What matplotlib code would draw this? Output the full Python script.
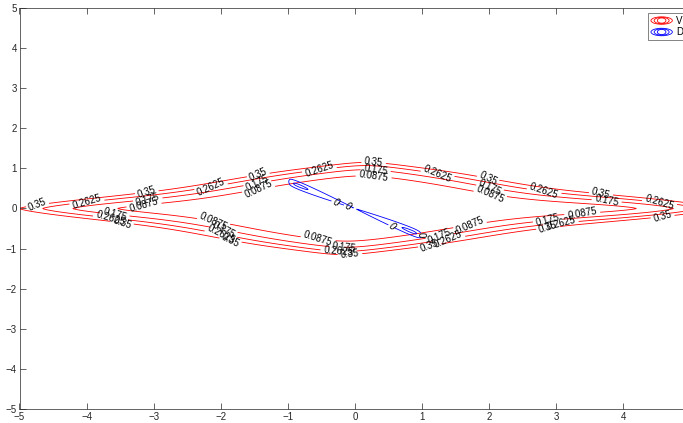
import numpy as np
import matplotlib.pyplot as plt
from matplotlib.legend_handler import HandlerBase
from matplotlib.lines import Line2D
from matplotlib.patches import Ellipse

plt.rcParams['font.family'] = ['Liberation Sans', 'DejaVu Sans']

# contour levels shown in the chart
v_levels = [0.0875, 0.175, 0.2625, 0.35]
d_zero = 0.0

# V surface (tips, heights at x=0)
v_tip_left = 5.0       # 0.35 contour meets y=0 at x=-5
v_tip_right = 5.37     # right tip (outside the visible area)
v_top = 1.15           # 0.35 contour top at x=0
v_shear = 0.15

# D surface: two thin lobes along the line y = -0.68 x
d_end = 0.98
d_slope = -0.68
d_width = 0.16
d_gap = 0.02

# where MATLAB put the labels, per level
v_label_pos = {
    0.35: [(-4.74, 0.1), (-3.1, 0.4), (-3.46, -0.33), (-1.76, -0.67), (-1.43, 0.82),
           (0.28, 1.15), (-0.07, -1.17), (1.9, 0.65), (3.65, 0.33), (4.56, -0.15),
           (1.12, -0.93), (2.86, -0.45)],
    0.2625: [(-4.0, 0.17), (-2.09, 0.47), (-3.65, -0.25), (-1.94, -0.57), (-0.55, 1.0),
             (-0.25, -1.08), (1.22, 0.85), (2.8, 0.4), (4.49, 0.05), (1.37, -0.73),
             (3.05, -0.32)],
    0.175: [(-3.1, 0.25), (-3.58, -0.15), (-1.9, -0.47), (-1.45, 0.62), (0.3, 0.92),
            (-0.16, -1.02), (1.97, 0.47), (3.74, 0.16), (1.27, -0.7), (2.86, -0.27)],
    0.0875: [(-3.16, 0.12), (-2.07, -0.27), (-1.39, 0.42), (0.28, 0.8), (-0.52, -0.7),
             (1.97, 0.3), (3.36, -0.03), (1.67, -0.35)],
}
d_label_pos = [(-0.3, 0.15), (-0.1, 0.06), (0.6, -0.42), (0.96, -0.66)]

x = np.linspace(-5.3, 5.6, 1300)
y = np.linspace(-2.0, 2.0, 1000)
X, Y = np.meshgrid(x, y)

xe = X - v_shear * Y
xa = np.sqrt(xe ** 2 + 0.25) - 0.5
A = np.where(xe < 0, 0.35 * (np.abs(xe) / v_tip_left) ** 4,
             0.35 * (np.abs(xe) / v_tip_right) ** 5.6)
q = 1.4 + 2.6 * np.exp(-(xe / 1.6) ** 2)
B = 0.35 / v_top ** 4 + 0.28 * xa + 0.007 * xa ** 3
V = A + B * np.abs(Y) ** q

s = np.abs(X) / d_end
t = Y - d_slope * X
f = np.where(s < 1, d_width * s * np.clip(1 - s, 0, None) ** 0.18, 0)
D = (f ** 2 - t ** 2 - (d_gap * d_width) ** 2) * 100
d_inner = ((0.57 * d_width) ** 2 - (d_gap * d_width) ** 2) * 100


class ContourIcon(HandlerBase):
    def create_artists(self, legend, orig_handle, xdescent, ydescent,
                       width, height, fontsize, trans):
        c = orig_handle.get_color()
        cx = width / 2 - xdescent
        cy = height / 2 - ydescent
        out = []
        for k in (1.0, 0.7, 0.4):
            out.append(Ellipse((cx, cy), width * k, height * (0.5 + 0.5 * k),
                               fill=False, edgecolor=c, lw=0.6, transform=trans))
        return out


fig = plt.figure(figsize=(6.83, 4.23), dpi=100)
ax = fig.add_axes([19.5 / 683, 14 / 423, 671 / 683, 401 / 423])

for lev in v_levels:
    cv = ax.contour(X, Y, V, levels=[lev], colors='r', linewidths=0.6)
    ax.clabel(cv, fmt=lambda v: f'{v:g}', manual=v_label_pos[lev], inline=True,
              inline_spacing=2, fontsize=7, colors='k')

cd = ax.contour(X, Y, D, levels=[d_zero, d_inner], colors='b', linewidths=0.6)
ax.clabel(cd, levels=[d_zero], fmt=lambda v: '0', manual=d_label_pos, inline=True,
          inline_spacing=2, fontsize=7, colors='k')

ax.set_xlim(-5, 5)
ax.set_ylim(-5, 5)
ax.set_xticks(range(-5, 5))
ax.set_yticks(range(-5, 6))
ax.tick_params(direction='in', top=True, right=True, length=4, width=0.5,
               labelsize=7, colors='0.15', pad=2)
for sp in ax.spines.values():
    sp.set_linewidth(0.5)
    sp.set_color('0.15')

handles = [Line2D([], [], color='r'), Line2D([], [], color='b')]
leg = ax.legend(handles, ['V', 'D'], loc='upper left', bbox_to_anchor=(0.9367, 0.9875),
                handler_map={Line2D: ContourIcon()}, fontsize=7, fancybox=False,
                borderaxespad=0, borderpad=0.3, handlelength=2.2, handleheight=0.8,
                handletextpad=0.4, labelspacing=0.15)
leg.get_frame().set_edgecolor('0.15')
leg.get_frame().set_linewidth(0.5)

fig.savefig('out.png', dpi=100)
